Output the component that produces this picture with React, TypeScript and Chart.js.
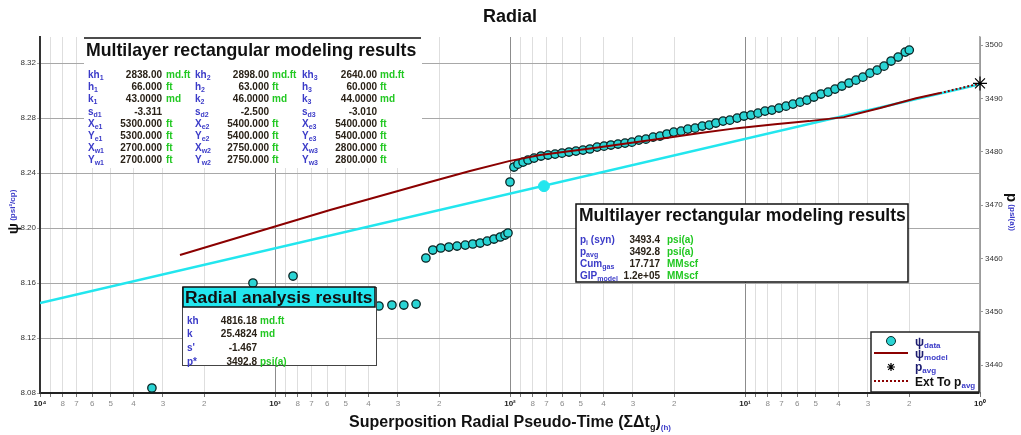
import React, { useEffect, useRef } from 'react';
import { Chart, registerables } from 'chart.js';

Chart.register(...registerables);

const FONT = '"Liberation Sans", Arial, Helvetica, sans-serif';

// ---------- data (x: superposition time [h], y: psi [1e8 psi²/cp]) ----------
const dataTime = [
  3340, 1241, 838, 361, 318, 283, 251, 228, 213, 197, 182, 168, 155, 144, 134, 125, 117, 110, 105, 102, 100,
  96.2, 92.5, 88.0, 83.8, 79.0, 73.8, 68.9, 64.3, 60.1, 56.1, 52.4, 48.9, 45.7, 42.6, 39.8, 37.2, 34.7, 32.4,
  30.3, 28.3, 26.4, 24.6, 23.0, 21.5, 20.1, 18.7, 17.5, 16.3, 15.2, 14.2, 13.3, 12.4, 11.6, 10.8, 10.1, 9.43,
  8.80, 8.22, 7.68, 7.17, 6.69, 6.25, 5.83, 5.45, 5.09, 4.75, 4.43, 4.14, 3.87, 3.61, 3.37, 3.15, 2.94, 2.74,
  2.56, 2.39, 2.23, 2.08, 2.00,
];
const dataPsi = [
  8.0836, 8.1600, 8.1651, 8.1433, 8.1440, 8.1440, 8.1447, 8.1782, 8.1840, 8.1855, 8.1862, 8.1869, 8.1876, 8.1884,
  8.1891, 8.1905, 8.1920, 8.1935, 8.1949, 8.1964, 8.2335,
  8.2444, 8.2465, 8.2480, 8.2495, 8.2509, 8.2524, 8.2531, 8.2538, 8.2545, 8.2553, 8.2560, 8.2567, 8.2575, 8.2589,
  8.2596, 8.2604, 8.2611, 8.2618, 8.2625, 8.2640, 8.2647, 8.2662, 8.2669, 8.2684, 8.2698, 8.2705, 8.2720, 8.2727,
  8.2742, 8.2749, 8.2764, 8.2778, 8.2785, 8.2800, 8.2815, 8.2822, 8.2836, 8.2851, 8.2858, 8.2873, 8.2887, 8.2902,
  8.2916, 8.2931, 8.2953, 8.2975, 8.2989, 8.3011, 8.3033, 8.3055, 8.3076, 8.3098, 8.3127, 8.3149, 8.3178, 8.3215,
  8.3244, 8.3280, 8.3295,
];
const modelTime = [2537, 1554, 952, 583, 357, 219, 148, 101, 74.5, 43.9, 30.9, 21.7, 15.5, 10.8, 7.45, 5.34, 3.79, 2.66, 1.87, 1.48];
const modelPsi = [8.1804, 8.1913, 8.2022, 8.2131, 8.2233, 8.2335, 8.2415, 8.2487, 8.2531, 8.2582, 8.2618, 8.2655, 8.2691, 8.2727, 8.2756, 8.2778, 8.2807, 8.2873, 8.2945, 8.2982];
const radialLineTime = [10000, 1];
const radialLinePsi = [8.1455, 8.3047];
const radialMarkTime = [71.7];
const radialMarkPsi = [8.2305];
const extTime = [1.48, 1];
const extPsi = [8.2982, 8.3052];
const pAvgTime = [1];
const pAvgPressure = [3492.8];

// ---------- axes ----------
const psiTicks = [8.08, 8.12, 8.16, 8.2, 8.24, 8.28, 8.32];
const psiMin = 8.08;
const psiMax = 8.339;
const pressureTicks = [3440, 3450, 3460, 3470, 3480, 3490, 3500];
const pressureMin = 3434.75;
const pressureMax = 3501.5;
const xMin = 1;
const xMax = 10000;
const xDecadeLabels = ['10⁰', '10¹', '10²', '10³', '10⁴'];
const xMinorLabels = ['', '', '2', '3', '4', '5', '6', '7', '8', ''];

// ---------- texts ----------
const chartTitle = 'Radial';
const xAxisTitle = 'Superposition Radial Pseudo-Time (ΣΔt';
const xAxisSub = 'g';
const xAxisUnit = '(h)';
const yAxisTitle = 'ψ';
const yAxisUnit = ' (psi²/cp)';
const y1AxisTitle = 'p';
const y1AxisUnit = ' (psi(a))';

const mlTitle = 'Multilayer rectangular modeling results';
const mlRowNames = ['kh', 'h', 'k', 's', 'X', 'Y', 'X', 'Y'];
const mlRowSubs = ['', '', '', 'd', 'e', 'e', 'w', 'w'];
const mlUnits = ['md.ft', 'ft', 'md', '', 'ft', 'ft', 'ft', 'ft'];
const layer1Values = ['2838.00', '66.000', '43.0000', '-3.311', '5300.000', '5300.000', '2700.000', '2700.000'];
const layer2Values = ['2898.00', '63.000', '46.0000', '-2.500', '5400.000', '5400.000', '2750.000', '2750.000'];
const layer3Values = ['2640.00', '60.000', '44.0000', '-3.010', '5400.000', '5400.000', '2800.000', '2800.000'];

const summaryNames = ['p', 'p', 'Cum', 'GIP'];
const summarySubs = ['i', 'avg', 'gas', 'model'];
const summarySuffix = [' (syn)', '', '', ''];
const summaryValues = ['3493.4', '3492.8', '17.717', '1.2e+05'];
const summaryUnits = ['psi(a)', 'psi(a)', 'MMscf', 'MMscf'];

const radialTitle = 'Radial analysis results';
const radialLabels = ['kh', 'k', "s'", 'p*'];
const radialValues = ['4816.18', '25.4824', '-1.467', '3492.8'];
const radialUnits = ['md.ft', 'md', '', 'psi(a)'];

const legendNames = ['ψ', 'ψ', 'p', 'Ext To p'];
const legendSubs = ['data', 'model', 'avg', 'avg'];

// ---------- colors ----------
const BLUE = '#3b3bc8';
const DARK = '#2a2218';
const GREEN = '#22c822';
const RED = '#8b0000';
const CYAN = '#22e6ee';

type Seg = { t: string; font: string; color: string; dy?: number };
const f = (size: number, bold = true) => `${bold ? 'bold ' : ''}${size}px ${FONT}`;

function drawSegs(ctx: CanvasRenderingContext2D, segs: Seg[], x: number, y: number, align: 'left' | 'center' | 'right' = 'left') {
  let total = 0;
  const widths = segs.map((s) => {
    ctx.font = s.font;
    const w = ctx.measureText(s.t).width;
    total += w;
    return w;
  });
  let cx = align === 'left' ? x : align === 'center' ? x - total / 2 : x - total;
  ctx.textAlign = 'left';
  ctx.textBaseline = 'alphabetic';
  segs.forEach((s, i) => {
    ctx.font = s.font;
    ctx.fillStyle = s.color;
    ctx.fillText(s.t, cx, y + (s.dy || 0));
    cx += widths[i];
  });
}

function isDecade(v: number | undefined) {
  if (v === undefined || v <= 0) return false;
  const e = Math.log10(v);
  return Math.abs(e - Math.round(e)) < 1e-9;
}

function xTickLabel(v: number) {
  const e = Math.log10(v);
  if (Math.abs(e - Math.round(e)) < 1e-9) return xDecadeLabels[Math.round(e)] ?? '';
  const m = Math.round(v / Math.pow(10, Math.floor(e + 1e-9)));
  return xMinorLabels[m] ?? '';
}

function drawStar(ctx: CanvasRenderingContext2D, x: number, y: number, r: number) {
  ctx.beginPath();
  for (let i = 0; i < 4; i++) {
    const a = (i * Math.PI) / 4;
    ctx.moveTo(x - r * Math.cos(a), y - r * Math.sin(a));
    ctx.lineTo(x + r * Math.cos(a), y + r * Math.sin(a));
  }
  ctx.stroke();
}

const overlayPlugin = {
  id: 'overlay',
  afterDatasetsDraw(chart: any) {
    const ctx: CanvasRenderingContext2D = chart.ctx;
    ctx.save();

    // ---- Box 1: multilayer parameters ----
    ctx.fillStyle = '#ffffff';
    ctx.fillRect(84, 37, 338, 131);
    ctx.strokeStyle = '#111';
    ctx.lineWidth = 1.5;
    ctx.beginPath();
    ctx.moveTo(84, 38);
    ctx.lineTo(421, 38);
    ctx.stroke();
    drawSegs(ctx, [{ t: mlTitle, font: f(17.7), color: '#111' }], 86, 56);
    const colLabelX = [88, 195, 302];
    const colValueX = [162, 269, 377];
    const colUnitX = [166, 272, 380];
    const layers = [layer1Values, layer2Values, layer3Values];
    for (let r = 0; r < mlRowNames.length; r++) {
      const y = 78 + r * 12.2;
      for (let c = 0; c < 3; c++) {
        drawSegs(ctx, [
          { t: mlRowNames[r], font: f(10), color: BLUE },
          { t: mlRowSubs[r] + String(c + 1), font: f(7), color: BLUE, dy: 2 },
        ], colLabelX[c], y);
        drawSegs(ctx, [{ t: layers[c][r], font: f(10), color: DARK }], colValueX[c], y, 'right');
        if (mlUnits[r]) drawSegs(ctx, [{ t: mlUnits[r], font: f(10), color: GREEN }], colUnitX[c], y);
      }
    }

    // ---- Box 2: summary ----
    ctx.fillStyle = '#ffffff';
    ctx.fillRect(576, 204, 332, 78);
    ctx.strokeStyle = '#111';
    ctx.lineWidth = 1.5;
    ctx.strokeRect(576, 204, 332, 78);
    drawSegs(ctx, [{ t: mlTitle, font: f(17.5), color: '#111' }], 579, 221);
    for (let r = 0; r < summaryNames.length; r++) {
      const y = 242.5 + r * 12.3;
      drawSegs(ctx, [
        { t: summaryNames[r], font: f(10), color: BLUE },
        { t: summarySubs[r], font: f(7), color: BLUE, dy: 2 },
        { t: summarySuffix[r], font: f(10), color: BLUE },
      ], 580, y);
      drawSegs(ctx, [{ t: summaryValues[r], font: f(10), color: DARK }], 660, y, 'right');
      drawSegs(ctx, [{ t: summaryUnits[r], font: f(10), color: GREEN }], 667, y);
    }

    // ---- Box 3: radial analysis ----
    ctx.fillStyle = '#ffffff';
    ctx.fillRect(182, 287, 195, 79);
    ctx.strokeStyle = '#444';
    ctx.lineWidth = 1;
    ctx.strokeRect(182.5, 287.5, 194, 78);
    ctx.fillStyle = CYAN;
    ctx.fillRect(183, 287, 192, 20);
    ctx.strokeStyle = '#111';
    ctx.lineWidth = 1.5;
    ctx.strokeRect(183, 287, 192, 20);
    drawSegs(ctx, [{ t: radialTitle, font: f(17.4), color: '#111' }], 185, 303);
    for (let r = 0; r < radialLabels.length; r++) {
      const y = 323.5 + r * 13.7;
      drawSegs(ctx, [{ t: radialLabels[r], font: f(10), color: BLUE }], 187, y);
      drawSegs(ctx, [{ t: radialValues[r], font: f(10), color: DARK }], 257, y, 'right');
      if (radialUnits[r]) drawSegs(ctx, [{ t: radialUnits[r], font: f(10), color: GREEN }], 260, y);
    }

    // ---- Legend ----
    ctx.fillStyle = '#ffffff';
    ctx.fillRect(871, 332, 108, 60);
    ctx.strokeStyle = '#222';
    ctx.lineWidth = 1.5;
    ctx.strokeRect(871, 332, 108, 60);
    ctx.beginPath();
    ctx.arc(891, 341, 4.5, 0, Math.PI * 2);
    ctx.fillStyle = '#2ad4d4';
    ctx.fill();
    ctx.strokeStyle = '#0a2a2a';
    ctx.lineWidth = 1;
    ctx.stroke();
    ctx.strokeStyle = RED;
    ctx.lineWidth = 2;
    ctx.beginPath();
    ctx.moveTo(874, 353);
    ctx.lineTo(908, 353);
    ctx.stroke();
    ctx.strokeStyle = '#000';
    ctx.lineWidth = 1.2;
    drawStar(ctx, 891, 367, 4);
    ctx.strokeStyle = RED;
    ctx.lineWidth = 2;
    ctx.setLineDash([2, 2]);
    ctx.beginPath();
    ctx.moveTo(874, 381);
    ctx.lineTo(908, 381);
    ctx.stroke();
    ctx.setLineDash([]);
    const legY = [346, 358, 371, 386];
    for (let i = 0; i < legendNames.length; i++) {
      drawSegs(ctx, [
        { t: legendNames[i], font: f(12), color: i === 3 ? '#111' : '#1c1c70' },
        { t: legendSubs[i], font: f(8), color: BLUE, dy: 2 },
      ], 915, legY[i]);
    }
    ctx.restore();
  },
  afterDraw(chart: any) {
    const ctx: CanvasRenderingContext2D = chart.ctx;
    ctx.save();
    drawSegs(ctx, [{ t: chartTitle, font: f(18), color: '#111' }], 510, 22, 'center');
    drawSegs(ctx, [
      { t: xAxisTitle, font: f(16), color: '#111' },
      { t: xAxisSub, font: f(9), color: '#111', dy: 3 },
      { t: ')', font: f(16), color: '#111' },
      { t: xAxisUnit, font: f(8), color: BLUE, dy: 3 },
    ], 510, 427, 'center');
    ctx.save();
    ctx.translate(18, 212);
    ctx.rotate(-Math.PI / 2);
    drawSegs(ctx, [
      { t: yAxisTitle, font: f(15), color: '#111' },
      { t: yAxisUnit, font: f(8), color: BLUE, dy: -3 },
    ], 0, 0, 'center');
    ctx.restore();
    ctx.save();
    ctx.translate(1007, 212);
    ctx.rotate(Math.PI / 2);
    drawSegs(ctx, [
      { t: y1AxisTitle, font: f(15), color: '#111' },
      { t: y1AxisUnit, font: f(8), color: BLUE, dy: -3 },
    ], 0, 0, 'center');
    ctx.restore();
    ctx.restore();
  },
};

const xTickValues: number[] = [];
for (let e = 0; e < 4; e++) for (let m = 1; m <= 9; m++) xTickValues.push(m * Math.pow(10, e));
xTickValues.push(10000);

export default function App() {
  const ref = useRef<HTMLCanvasElement>(null);
  useEffect(() => {
    const canvas = ref.current;
    if (!canvas) return;
    const chart = new Chart(canvas, {
      type: 'scatter',
      data: {
        datasets: [
          {
            label: 'p avg',
            data: pAvgTime.map((t, i) => ({ x: t, y: pAvgPressure[i] })),
            yAxisID: 'y1',
            pointStyle: 'star',
            pointRadius: 7,
            borderColor: '#000',
            backgroundColor: '#000',
            borderWidth: 1.2,
            clip: false as any,
            order: 0,
          },
          {
            label: 'Ext To p avg',
            data: extTime.map((t, i) => ({ x: t, y: extPsi[i] })),
            yAxisID: 'y',
            showLine: true,
            borderColor: RED,
            borderWidth: 2,
            borderDash: [2, 2],
            pointRadius: 0,
            order: 1,
          },
          {
            label: 'psi model',
            data: modelTime.map((t, i) => ({ x: t, y: modelPsi[i] })),
            yAxisID: 'y',
            showLine: true,
            borderColor: RED,
            borderWidth: 2,
            pointRadius: 0,
            tension: 0,
            order: 2,
          },
          {
            label: 'psi data',
            data: dataTime.map((t, i) => ({ x: t, y: dataPsi[i] })),
            yAxisID: 'y',
            showLine: false,
            pointStyle: 'circle',
            pointRadius: 4.2,
            backgroundColor: '#2ad4d4',
            borderColor: '#0a2424',
            borderWidth: 1.3,
            order: 3,
          },
          {
            label: 'radial mark',
            data: radialMarkTime.map((t, i) => ({ x: t, y: radialMarkPsi[i] })),
            yAxisID: 'y',
            pointRadius: 5.5,
            backgroundColor: CYAN,
            borderColor: CYAN,
            order: 4,
          },
          {
            label: 'radial line',
            data: radialLineTime.map((t, i) => ({ x: t, y: radialLinePsi[i] })),
            yAxisID: 'y',
            showLine: true,
            borderColor: CYAN,
            borderWidth: 2.5,
            pointRadius: 0,
            order: 5,
          },
        ],
      },
      options: {
        responsive: false,
        animation: false,
        devicePixelRatio: 1,
        layout: { padding: { top: 37, left: 0, right: 0, bottom: 0 } },
        plugins: {
          legend: { display: false },
          title: { display: false },
          tooltip: { enabled: false },
        },
        scales: {
          x: {
            type: 'logarithmic',
            reverse: true,
            min: xMin,
            max: xMax,
            position: 'bottom',
            afterBuildTicks: (s: any) => {
              s.ticks = xTickValues.map((v) => ({ value: v }));
            },
            afterFit: (s: any) => {
              s.height = 42;
            },
            ticks: {
              autoSkip: false,
              maxRotation: 0,
              minRotation: 0,
              padding: 2,
              font: (c: any) => ({ family: FONT, size: 8, weight: isDecade(c.tick?.value) ? 'bold' : 'normal' }),
              color: (c: any) => (isDecade(c.tick?.value) ? '#222' : '#8a8a8a'),
              callback: (v: any) => xTickLabel(Number(v)),
            },
            grid: {
              color: (c: any) => (isDecade(c.tick?.value) ? '#8c8c8c' : '#dedede'),
              lineWidth: 1,
              tickLength: 4,
              tickColor: '#777',
            },
            border: { color: '#222', width: 2 },
          },
          y: {
            type: 'linear',
            position: 'left',
            min: psiMin,
            max: psiMax,
            afterBuildTicks: (s: any) => {
              s.ticks = psiTicks.map((v) => ({ value: v }));
            },
            afterFit: (s: any) => {
              s.width = 40;
            },
            ticks: {
              font: { family: FONT, size: 8 },
              color: '#333',
              padding: 1,
              callback: (v: any) => Number(v).toFixed(2),
            },
            grid: { color: '#a8a8a8', lineWidth: 1, tickLength: 3 },
            border: { color: '#333', width: 2 },
          },
          y1: {
            type: 'linear',
            position: 'right',
            min: pressureMin,
            max: pressureMax,
            afterBuildTicks: (s: any) => {
              s.ticks = pressureTicks.map((v) => ({ value: v }));
            },
            afterFit: (s: any) => {
              s.width = 41;
            },
            ticks: {
              font: { family: FONT, size: 8 },
              color: '#333',
              padding: 2,
              callback: (v: any) => String(v),
            },
            grid: { drawOnChartArea: false, color: '#999', tickLength: 3 },
            border: { color: '#aaa', width: 1.5 },
          },
        },
      } as any,
      plugins: [overlayPlugin],
    });
    return () => chart.destroy();
  }, []);
  return (
    <div style={{ position: 'absolute', left: 0, top: 0, width: 1021, height: 435, background: '#fff' }}>
      <canvas ref={ref} width={1021} height={435} style={{ display: 'block' }} />
    </div>
  );
}
